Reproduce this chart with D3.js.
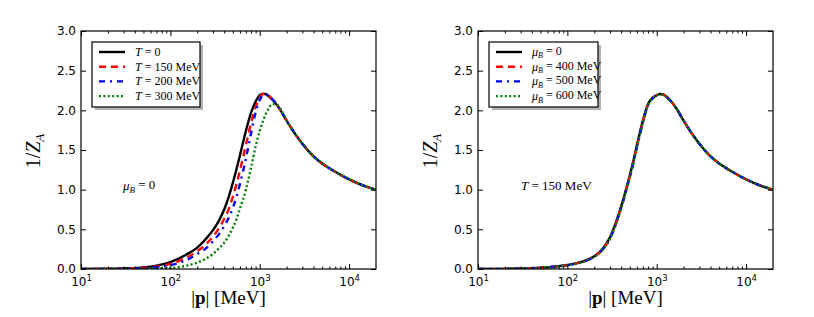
<!DOCTYPE html>
<html>
<head>
<meta charset="utf-8">
<script src="https://cdn.jsdelivr.net/npm/d3@7"></script>
<style>
body { margin: 0; background: #fff; }
svg { display: block; }
.tick text { font-family: "DejaVu Sans", sans-serif; font-size: 12px; fill: #000; }
.serif { font-family: "Liberation Serif", "DejaVu Serif", serif; fill: #000; }
</style>
</head>
<body>
<svg id="chart" width="814" height="317"></svg>
<script>
// momentum grid in MeV, shared by every curve
const pGrid = [10, 20, 30, 50, 70, 100, 150, 200, 250, 300, 350, 400, 450, 500, 550, 600, 700, 800, 900,
  1000, 1100, 1200, 1400, 1600, 2000, 2500, 3000, 4000, 5000, 7000, 10000, 15000, 20000];

// left panel, mu_B = 0
const zT0   = [0, 0.003, 0.008, 0.02, 0.042, 0.086, 0.18, 0.27, 0.38, 0.49, 0.61, 0.75, 0.91, 1.085, 1.26, 1.43, 1.74, 1.97, 2.11,
  2.19, 2.21, 2.195, 2.13, 2.05, 1.87, 1.70, 1.58, 1.42, 1.33, 1.225, 1.13, 1.045, 1.00];
const zT150 = [0, 0.002, 0.006, 0.015, 0.032, 0.065, 0.14, 0.225, 0.31, 0.41, 0.515, 0.63, 0.755, 0.91, 1.07, 1.24, 1.56, 1.84, 2.04,
  2.16, 2.205, 2.20, 2.13, 2.05, 1.87, 1.70, 1.58, 1.42, 1.33, 1.225, 1.13, 1.045, 1.00];
const zT200 = [0, 0.001, 0.004, 0.012, 0.024, 0.05, 0.11, 0.19, 0.26, 0.35, 0.44, 0.54, 0.645, 0.77, 0.915, 1.07, 1.39, 1.71, 1.975,
  2.13, 2.20, 2.20, 2.135, 2.05, 1.87, 1.70, 1.58, 1.42, 1.33, 1.225, 1.13, 1.045, 1.00];
const zT300 = [0, 0, 0.001, 0.003, 0.006, 0.012, 0.04, 0.08, 0.13, 0.19, 0.26, 0.33, 0.42, 0.52, 0.63, 0.76, 1.00, 1.28, 1.55,
  1.74, 1.88, 1.98, 2.08, 2.06, 1.87, 1.70, 1.58, 1.42, 1.33, 1.225, 1.13, 1.045, 1.00];

// right panel, T = 150 MeV
const zMu0   = [0, 0.002, 0.006, 0.016, 0.03, 0.05, 0.095, 0.16, 0.26, 0.40, 0.59, 0.79, 0.99, 1.18, 1.37, 1.56, 1.87, 2.08, 2.16,
  2.19, 2.205, 2.195, 2.13, 2.05, 1.87, 1.70, 1.58, 1.42, 1.33, 1.225, 1.13, 1.045, 1.00];
const zMu400 = [0, 0.002, 0.006, 0.015, 0.029, 0.049, 0.093, 0.158, 0.255, 0.39, 0.58, 0.78, 0.98, 1.17, 1.36, 1.55, 1.86, 2.07, 2.16,
  2.19, 2.205, 2.195, 2.13, 2.05, 1.87, 1.70, 1.58, 1.42, 1.33, 1.225, 1.13, 1.045, 1.00];
const zMu500 = [0, 0.002, 0.005, 0.015, 0.028, 0.048, 0.091, 0.155, 0.25, 0.385, 0.57, 0.77, 0.97, 1.16, 1.35, 1.54, 1.85, 2.07, 2.15,
  2.19, 2.205, 2.195, 2.13, 2.05, 1.87, 1.70, 1.58, 1.42, 1.33, 1.225, 1.13, 1.045, 1.00];
const zMu600 = [0, 0.002, 0.005, 0.014, 0.028, 0.047, 0.089, 0.152, 0.245, 0.38, 0.565, 0.765, 0.965, 1.155, 1.345, 1.535, 1.845, 2.065, 2.15,
  2.19, 2.205, 2.195, 2.13, 2.05, 1.87, 1.70, 1.58, 1.42, 1.33, 1.225, 1.13, 1.045, 1.00];

const xMajor = [10, 100, 1000, 10000];
const yTicks = [0, 0.5, 1.0, 1.5, 2.0, 2.5, 3.0];

const leftLabels  = ["0", "150", "200", "300"];
const rightLabels = ["0", "400", "500", "600"];

const styles = [
  { color: "#000000", dash: null },
  { color: "#ff0000", dash: "7,5" },
  { color: "#0000ff", dash: "6,5,2,5" },
  { color: "#008000", dash: "2,2.4" }
];

const svg = d3.select("#chart");
svg.append("rect").attr("width", 814).attr("height", 317).attr("fill", "#fff");

const yTop = 31, yBottom = 269;

// writes pieces of math-like text as tspans
function mathText(sel, parts) {
  parts.forEach(p => {
    const t = sel.append("tspan").text(p.t);
    if (p.it) t.attr("font-style", "italic");
    if (p.bold) t.attr("font-weight", "bold");
    if (p.sub) t.attr("font-size", p.sub).attr("dy", p.dy);
    if (p.back) t.attr("dy", p.back);
  });
}

function drawPanel(cfg) {
  const x = d3.scaleLog().domain([10, 20000]).range([cfg.x0, cfg.x1]);
  const y = d3.scaleLinear().domain([0, 3]).range([yBottom, yTop]);
  const g = svg.append("g");

  const minor = [];
  [10, 100, 1000, 10000].forEach(d => { for (let k = 2; k <= 9; k++) if (d * k < 20000) minor.push(d * k); });

  // curves
  const clipId = "clip" + cfg.x0;
  g.append("clipPath").attr("id", clipId).append("rect")
    .attr("x", cfg.x0).attr("y", yTop).attr("width", cfg.x1 - cfg.x0).attr("height", yBottom - yTop);

  const line = d3.line().x(d => x(d.p)).y(d => y(d.v)).curve(d3.curveMonotoneX);
  cfg.series.forEach((vals, i) => {
    const pts = pGrid.map((p, j) => ({ p: p, v: vals[j] }));
    g.append("path").datum(pts)
      .attr("clip-path", `url(#${clipId})`)
      .attr("d", line)
      .attr("fill", "none")
      .attr("stroke", styles[i].color)
      .attr("stroke-width", 2.4)
      .attr("stroke-dasharray", styles[i].dash);
  });

  // axes, ticks pointing inward
  const xb = g.append("g").attr("transform", `translate(0,${yBottom})`)
    .call(d3.axisBottom(x).tickValues(xMajor).tickSize(-5).tickPadding(8).tickFormat(d => ""));
  xb.selectAll(".tick text").each(function (d) {
    const t = d3.select(this);
    t.append("tspan").text("10");
    t.append("tspan").text(Math.round(Math.log10(d))).attr("font-size", "8.5px").attr("dy", "-0.55em");
  });
  g.append("g").attr("transform", `translate(0,${yBottom})`)
    .call(d3.axisBottom(x).tickValues(minor).tickSize(-2.5).tickFormat(""));
  g.append("g").attr("transform", `translate(0,${yTop})`)
    .call(d3.axisTop(x).tickValues(xMajor).tickSize(-5).tickFormat(""));
  g.append("g").attr("transform", `translate(0,${yTop})`)
    .call(d3.axisTop(x).tickValues(minor).tickSize(-2.5).tickFormat(""));
  g.append("g").attr("transform", `translate(${cfg.x0},0)`)
    .call(d3.axisLeft(y).tickValues(yTicks).tickSize(-5).tickPadding(5).tickFormat(d3.format(".1f")));
  g.append("g").attr("transform", `translate(${cfg.x1},0)`)
    .call(d3.axisRight(y).tickValues(yTicks).tickSize(-5).tickFormat(""));
  g.selectAll(".domain").remove();
  g.selectAll(".tick line").attr("stroke", "#000");

  g.append("rect")
    .attr("x", cfg.x0).attr("y", yTop).attr("width", cfg.x1 - cfg.x0).attr("height", yBottom - yTop)
    .attr("fill", "none").attr("stroke", "#000").attr("stroke-width", 1.2);

  // axis titles
  const yl = g.append("text").attr("class", "serif")
    .attr("transform", `translate(${cfg.x0 - 41},151) rotate(-90)`)
    .attr("text-anchor", "middle").attr("font-size", "20px");
  mathText(yl, [{ t: "1/" }, { t: "Z", it: true }, { t: "A", it: true, sub: "13px", dy: "0.3em" }]);

  const xl = g.append("text").attr("class", "serif")
    .attr("x", (cfg.x0 + cfg.x1) / 2).attr("y", 304)
    .attr("text-anchor", "middle").attr("font-size", "19px");
  mathText(xl, [{ t: "|" }, { t: "p", bold: true }, { t: "| [MeV]" }]);

  // annotation
  const note = g.append("text").attr("class", "serif")
    .attr("x", cfg.noteX).attr("y", 190).attr("font-size", "13px");
  mathText(note, cfg.note);

  // legend
  const lx = cfg.x0 + 11, ly = 42, lw = cfg.legendW, lh = 65;
  g.append("rect").attr("x", lx + 3).attr("y", ly + 3).attr("width", lw).attr("height", lh)
    .attr("fill", "#b3b3b3");
  g.append("rect").attr("x", lx).attr("y", ly).attr("width", lw).attr("height", lh)
    .attr("fill", "#fff").attr("stroke", "#000").attr("stroke-width", 1.2);
  cfg.legend.forEach((parts, i) => {
    const ry = 52 + i * 14.7;
    g.append("line")
      .attr("x1", lx + 7).attr("x2", lx + 33).attr("y1", ry).attr("y2", ry)
      .attr("stroke", styles[i].color).attr("stroke-width", 2.4)
      .attr("stroke-dasharray", styles[i].dash);
    const t = g.append("text").attr("class", "serif")
      .attr("x", lx + 43).attr("y", ry + 4).attr("font-size", "12px");
    mathText(t, parts);
  });
}

drawPanel({
  x0: 81, x1: 376,
  series: [zT0, zT150, zT200, zT300],
  legendW: 108,
  legend: leftLabels.map(v => v === "0"
    ? [{ t: "T", it: true }, { t: " = 0" }]
    : [{ t: "T", it: true }, { t: " = " + v + " MeV" }]),
  noteX: 123,
  note: [{ t: "\u03bc", it: true }, { t: "B", it: true, sub: "9px", dy: "0.3em" }, { t: " = 0", back: "-0.3em" }]
});

drawPanel({
  x0: 478, x1: 773,
  series: [zMu0, zMu400, zMu500, zMu600],
  legendW: 109,
  legend: rightLabels.map(v => {
    const base = [{ t: "\u03bc", it: true }, { t: "B", it: true, sub: "8px", dy: "0.3em" }];
    return base.concat([{ t: v === "0" ? " = 0" : " = " + v + " MeV", back: "-0.3em" }]);
  }),
  noteX: 521,
  note: [{ t: "T", it: true }, { t: " = 150 MeV" }]
});
</script>
</body>
</html>
